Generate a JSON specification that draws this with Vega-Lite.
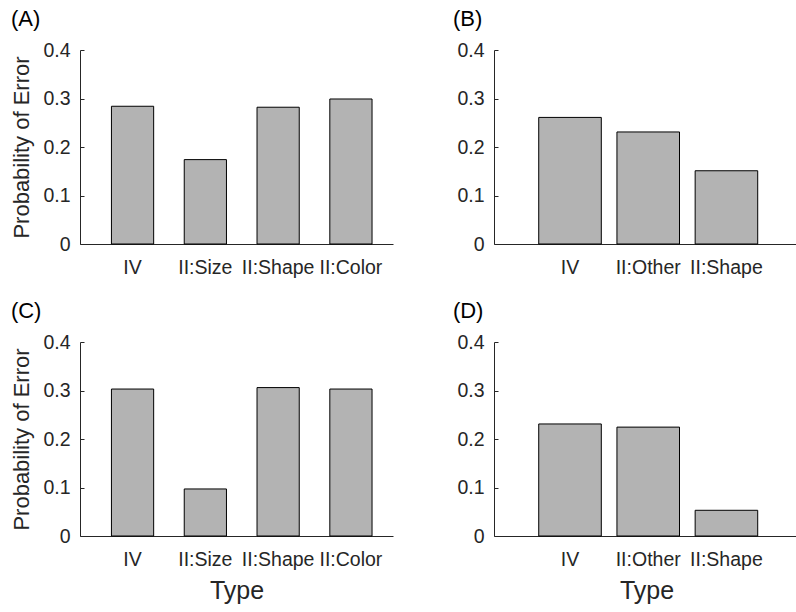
{
  "$schema": "https://vega.github.io/schema/vega-lite/v6.json",
  "padding": {"left": 10, "top": 8, "right": 0, "bottom": 0},
  "background": "white",
  "config": {
    "font": "Liberation Sans",
    "view": {"stroke": null},
    "title": {"fontSize": 22, "fontWeight": "normal", "color": "#000000", "anchor": "start", "frame": "bounds", "offset": 9},
    "axis": {
      "domainColor": "#262626",
      "tickColor": "#262626",
      "labelColor": "#262626",
      "titleColor": "#262626",
      "labelFont": "Liberation Sans",
      "titleFont": "Liberation Sans",
      "labelFontSize": 19.5,
      "grid": false,
      "tickSize": -4,
      "domainWidth": 1,
      "tickWidth": 1,
      "zindex": 1
    },
    "bar": {"fill": "#b3b3b3", "stroke": "#000000", "strokeWidth": 1}
  },
  "datasets": {
    "a": [
      {"type": "IV", "p": 0.284},
      {"type": "II:Size", "p": 0.174},
      {"type": "II:Shape", "p": 0.282},
      {"type": "II:Color", "p": 0.299}
    ],
    "b": [
      {"type": "IV", "p": 0.261},
      {"type": "II:Other", "p": 0.231},
      {"type": "II:Shape", "p": 0.151}
    ],
    "c": [
      {"type": "IV", "p": 0.303},
      {"type": "II:Size", "p": 0.097},
      {"type": "II:Shape", "p": 0.306},
      {"type": "II:Color", "p": 0.303}
    ],
    "d": [
      {"type": "IV", "p": 0.231},
      {"type": "II:Other", "p": 0.2245},
      {"type": "II:Shape", "p": 0.053}
    ]
  },
  "columns": 2,
  "align": "each",
  "spacing": {"column": 59, "row": 23},
  "concat": [
    {
      "title": {"text": "(A)"},
      "width": 313,
      "height": 194,
      "data": {"name": "a"},
      "mark": {"type": "bar"},
      "encoding": {
        "x": {"field": "type", "type": "nominal", "sort": null,
          "scale": {"type": "band", "paddingInner": 0.42, "paddingOuter": 0.36, "align": 0.6},
          "axis": {"title": null, "labelAngle": 0, "labelPadding": 18}},
        "y": {"field": "p", "type": "quantitative",
          "scale": {"domain": [0, 0.4], "nice": false},
          "axis": {"title": "Probability of Error", "titleFontSize": 22, "titleFontWeight": "normal", "titlePadding": 9,
            "values": [0, 0.1, 0.2, 0.3, 0.4], "labelPadding": 14,
            "labelExpr": "datum.value == 0 ? '0' : format(datum.value, '.1f')"}}
      }
    },
    {
      "title": {"text": "(B)", "dx": -4},
      "width": 305,
      "height": 194,
      "data": {"name": "b"},
      "mark": {"type": "bar"},
      "encoding": {
        "x": {"field": "type", "type": "nominal", "sort": null,
          "scale": {"type": "band", "paddingInner": 0.2, "paddingOuter": 0.55, "align": 0.52},
          "axis": {"title": null, "labelAngle": 0, "labelPadding": 18}},
        "y": {"field": "p", "type": "quantitative",
          "scale": {"domain": [0, 0.4], "nice": false},
          "axis": {"title": null,
            "values": [0, 0.1, 0.2, 0.3, 0.4], "labelPadding": 14,
            "labelExpr": "datum.value == 0 ? '0' : format(datum.value, '.1f')"}}
      }
    },
    {
      "title": {"text": "(C)"},
      "width": 313,
      "height": 194,
      "data": {"name": "c"},
      "mark": {"type": "bar"},
      "encoding": {
        "x": {"field": "type", "type": "nominal", "sort": null,
          "scale": {"type": "band", "paddingInner": 0.42, "paddingOuter": 0.36, "align": 0.6},
          "axis": {"title": "Type", "titleFontSize": 25, "titleFontWeight": "normal", "titlePadding": 10, "labelAngle": 0, "labelPadding": 18}},
        "y": {"field": "p", "type": "quantitative",
          "scale": {"domain": [0, 0.4], "nice": false},
          "axis": {"title": "Probability of Error", "titleFontSize": 22, "titleFontWeight": "normal", "titlePadding": 9,
            "values": [0, 0.1, 0.2, 0.3, 0.4], "labelPadding": 14,
            "labelExpr": "datum.value == 0 ? '0' : format(datum.value, '.1f')"}}
      }
    },
    {
      "title": {"text": "(D)", "dx": -4},
      "width": 305,
      "height": 194,
      "data": {"name": "d"},
      "mark": {"type": "bar"},
      "encoding": {
        "x": {"field": "type", "type": "nominal", "sort": null,
          "scale": {"type": "band", "paddingInner": 0.2, "paddingOuter": 0.55, "align": 0.52},
          "axis": {"title": "Type", "titleFontSize": 25, "titleFontWeight": "normal", "titlePadding": 10, "labelAngle": 0, "labelPadding": 18}},
        "y": {"field": "p", "type": "quantitative",
          "scale": {"domain": [0, 0.4], "nice": false},
          "axis": {"title": null,
            "values": [0, 0.1, 0.2, 0.3, 0.4], "labelPadding": 14,
            "labelExpr": "datum.value == 0 ? '0' : format(datum.value, '.1f')"}}
      }
    }
  ]
}
